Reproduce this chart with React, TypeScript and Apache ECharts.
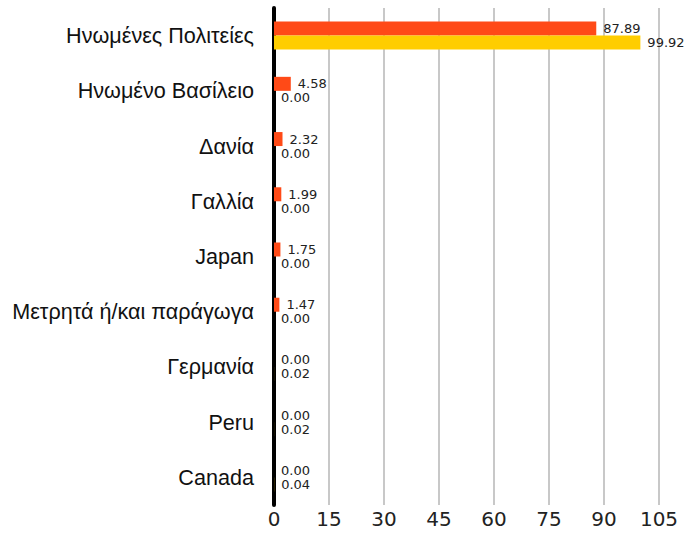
import React, { useEffect, useRef } from "react";
import * as echarts from "echarts";

const categories = [
  "Ηνωμένες Πολιτείες",
  "Ηνωμένο Βασίλειο",
  "Δανία",
  "Γαλλία",
  "Japan",
  "Μετρητά ή/και παράγωγα",
  "Γερμανία",
  "Peru",
  "Canada",
];
const seriesA = [87.89, 4.58, 2.32, 1.99, 1.75, 1.47, 0.0, 0.0, 0.0];
const seriesB = [99.92, 0.0, 0.0, 0.0, 0.0, 0.0, 0.02, 0.02, 0.04];
const xTicks = [0, 15, 30, 45, 60, 75, 90, 105];

export default function App() {
  const ref = useRef<HTMLDivElement>(null);
  useEffect(() => {
    if (!ref.current) return;
    const chart = echarts.init(ref.current, null, { renderer: "svg" });
    const label = {
      show: true,
      position: "right" as const,
      distance: 7,
      fontSize: 13,
      lineHeight: 13,
      fontFamily: "DejaVu Sans",
      color: "#222",
      formatter: (p: any) => Number(p.value).toFixed(2),
    };
    chart.setOption({
      animation: false,
      grid: { left: 274, right: 41, top: 8, bottom: 29, containLabel: false },
      xAxis: {
        type: "value",
        min: xTicks[0],
        max: xTicks[xTicks.length - 1],
        interval: 15,
        axisLine: { show: false },
        axisTick: { show: false },
        axisLabel: {
          fontSize: 20,
          fontFamily: "DejaVu Sans",
          color: "#222",
          margin: 4,
        },
        splitLine: { show: true, lineStyle: { color: "#c8c8c8", width: 2 } },
      },
      yAxis: {
        type: "category",
        data: categories,
        inverse: true,
        axisLine: { show: true, lineStyle: { color: "#000", width: 4 } },
        axisTick: { show: false },
        axisLabel: {
          fontSize: 21.6,
          fontFamily: "Liberation Sans",
          color: "#111",
          margin: 20,
        },
      },
      series: [
        {
          type: "bar",
          data: seriesA,
          barWidth: 14,
          barGap: "0%",
          itemStyle: { color: "#FF4A17" },
          label,
        },
        {
          type: "bar",
          data: seriesB,
          barWidth: 14,
          barGap: "0%",
          itemStyle: { color: "#FFCD00" },
          label,
        },
      ],
    });
    return () => chart.dispose();
  }, []);
  return <div ref={ref} style={{ width: 700, height: 534, position: "absolute", left: 0, top: 0 }} />;
}
